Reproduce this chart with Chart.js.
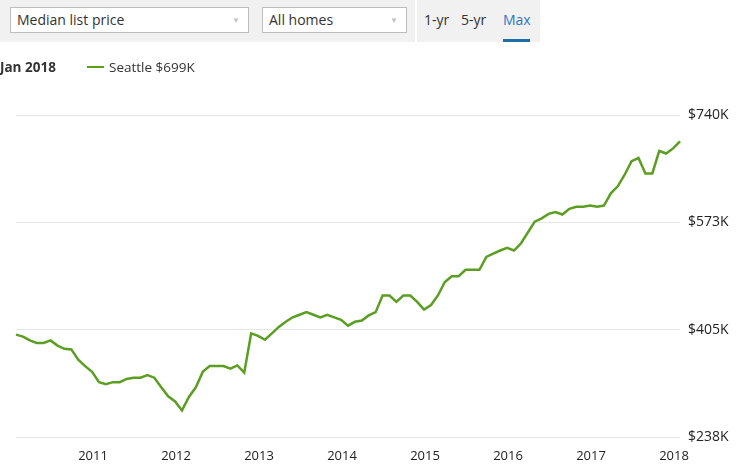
<!DOCTYPE html>
<html>
<head>
<meta charset="utf-8">
<script src="https://cdn.jsdelivr.net/npm/chart.js@4"></script>
<style>
  body { margin: 0; width: 745px; height: 476px; background: #fff; font-family: "Open Sans", sans-serif; color: #333; overflow: hidden; position: relative; }
  #bar { position: absolute; left: 0; top: 0; width: 540px; height: 42px; background: #f1f1f1; }
  .sel { position: absolute; top: 7px; height: 24px; background: #fff; border: 1px solid #bdbdbd; font-size: 14px; line-height: 24px; padding-left: 6px; box-sizing: content-box; color: #333; }
  .sel span { position: absolute; right: 8px; top: 0; font-size: 8px; color: #c4c4c4; }
  #divider { position: absolute; left: 415px; top: 0; width: 2px; height: 42px; background: #fff; }
  .tab { position: absolute; top: 10px; font-size: 14px; color: #333; }
  #tabline { position: absolute; left: 503px; top: 39px; width: 27px; height: 3px; background: #1f6ea7; }
  #legend { position: absolute; top: 58px; left: 0; font-size: 13.5px; height: 18px; line-height: 18px; }
  #date { position: absolute; left: 0; font-weight: bold; white-space: nowrap; }
  #swatch { position: absolute; left: 87px; top: 8px; width: 17px; height: 2px; background: #5b9e22; }
  #series { position: absolute; left: 109px; white-space: nowrap; }
  #wrap { position: absolute; left: 0; top: 0; width: 745px; height: 476px; }
</style>
</head>
<body>
<div id="wrap"><canvas id="priceChart"></canvas></div>
<div id="bar">
  <div class="sel" style="left:10px;width:231px;">Median list price<span>&#9660;</span></div>
  <div class="sel" style="left:262px;width:137px;">All homes<span>&#9660;</span></div>
  <div id="divider"></div>
  <div class="tab" style="left:424px;">1-yr</div>
  <div class="tab" style="left:461px;">5-yr</div>
  <div class="tab" style="left:503px;color:#2f77c4;">Max</div>
  <div id="tabline"></div>
</div>
<div id="legend" style="width:300px;">
  <div id="date">Jan 2018</div>
  <div id="swatch"></div>
  <div id="series">Seattle $699K</div>
</div>
<script>
// Monthly median list price, Seattle, Jan 2010 - Jan 2018 (in $K)
const years = [2010, 2011, 2012, 2013, 2014, 2015, 2016, 2017, 2018];
const monthNames = ['Jan', 'Feb', 'Mar', 'Apr', 'May', 'Jun', 'Jul', 'Aug', 'Sep', 'Oct', 'Nov', 'Dec'];
const seattle = [
  398, 395, 389, 385, 385, 389, 381, 376, 375, 359, 349, 340,
  324, 321, 324, 324, 329, 331, 331, 335, 331, 316, 302, 294,
  280, 301, 316, 340, 349, 349, 349, 345, 350, 339, 400, 396,
  390, 400, 410, 418, 425, 429, 433, 429, 425, 429, 425, 421,
  412, 418, 420, 428, 433, 459, 459, 449, 459, 459, 449, 437,
  444, 459, 480, 489, 489, 499, 499, 499, 519, 524, 529, 533,
  529, 540, 557, 574, 579, 586, 589, 585, 594, 597, 597, 599,
  597, 599, 618, 629, 647, 668, 673, 649, 649, 684, 680, 688,
  699
];
const yTicks = [238, 405.3, 572.7, 740];
const yTickLabels = ['$238K', '$405K', '$573K', '$740K'];

// category labels: one per month
const months = [];
years.forEach(function(y) {
    monthNames.forEach(function(m) {
        if (months.length < seattle.length) months.push(m + ' ' + y);
    });
});

const ctx = document.getElementById('priceChart').getContext('2d');
new Chart(ctx, {
    type: 'line',
    data: {
        labels: months,
        datasets: [{
            label: 'Seattle',
            data: seattle,
            borderColor: '#5b9e22',
            borderWidth: 2.5,
            pointRadius: 0,
            tension: 0,
            fill: false
        }]
    },
    options: {
        responsive: true,
        maintainAspectRatio: false,
        animation: false,
        layout: { padding: { left: 16, right: 0, top: 115, bottom: 9 } },
        plugins: { legend: { display: false }, tooltip: { enabled: false } },
        scales: {
            x: {
                grid: { display: false },
                border: { display: false },
                ticks: {
                    autoSkip: false,
                    maxRotation: 0,
                    padding: 3,
                    labelOffset: -6,
                    color: '#222',
                    font: { family: 'Open Sans', size: 13 },
                    callback: function(value, index) {
                        const lbl = months[index];
                        return (index > 0 && lbl.indexOf('Jan') === 0) ? lbl.slice(4) : '';
                    }
                }
            },
            y: {
                position: 'right',
                min: 238,
                max: 740,
                afterBuildTicks: function(axis) {
                    axis.ticks = yTicks.map(function(v) { return { value: v }; });
                },
                afterFit: function(axis) { axis.width = 65; },
                grid: { color: '#e6e6e6', lineWidth: 1, drawTicks: false },
                border: { display: false },
                ticks: {
                    padding: 8,
                    color: '#222',
                    font: { family: 'Open Sans', size: 14 },
                    callback: function(value) {
                        return yTickLabels[yTicks.indexOf(value)];
                    }
                }
            }
        }
    }
});
</script>
</body>
</html>
